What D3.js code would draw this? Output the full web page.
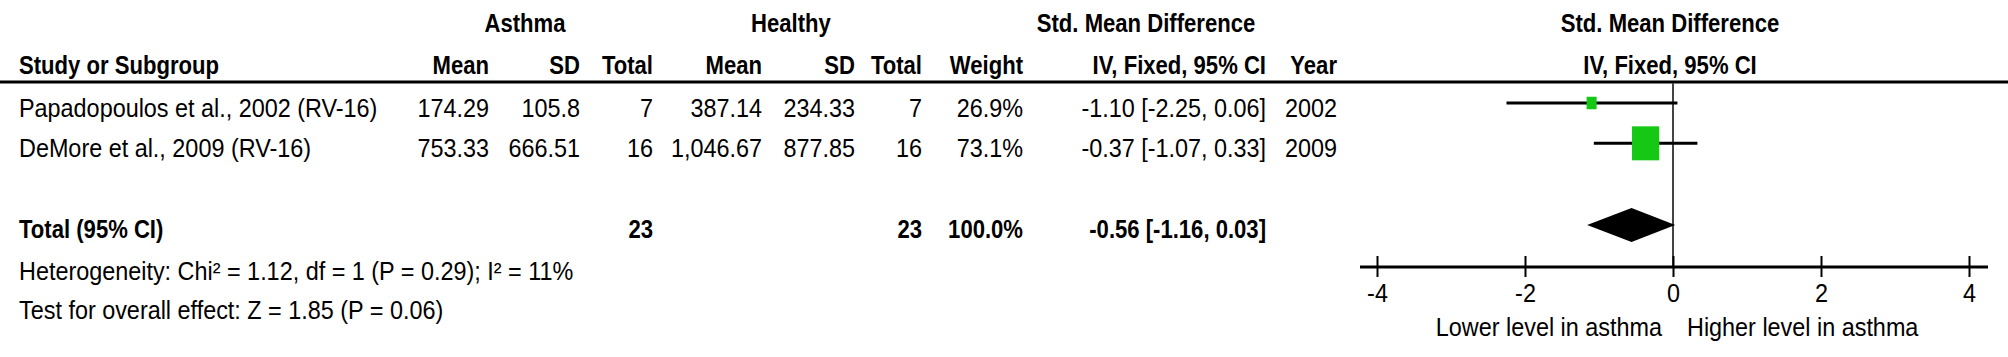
<!DOCTYPE html>
<html>
<head>
<meta charset="utf-8">
<script src="https://cdn.jsdelivr.net/npm/d3@7"></script>
<style>
  body { margin: 0; background: #fff; }
  svg text { font-family: "Liberation Sans", Arial, sans-serif; font-size: 26px; fill: #000; }
  .b { font-weight: bold; }
</style>
</head>
<body>
<div id="chart"></div>
<script>
// data
var studies = ["Papadopoulos et al., 2002 (RV-16)", "DeMore et al., 2009 (RV-16)"];
var asthmaMean = [174.29, 753.33];
var asthmaSD = [105.8, 666.51];
var asthmaN = [7, 16];
var healthyMean = [387.14, 1046.67];
var healthySD = [234.33, 877.85];
var healthyN = [7, 16];
var weights = [26.9, 73.1];
var smd = [-1.10, -0.37];
var ciLow = [-2.25, -1.07];
var ciHigh = [0.06, 0.33];
var years = [2002, 2009];

var totalN = [23, 23];
var totalWeight = 100;
var totalSmd = -0.56;
var totalLow = -1.16;
var totalHigh = 0.03;

var axisTicks = [-4, -2, 0, 2, 4];
var axisLabels = ["Lower level in asthma", "Higher level in asthma"];
var heterogeneity = "Heterogeneity: Chi\u00b2 = 1.12, df = 1 (P = 0.29); I\u00b2 = 11%";
var overall = "Test for overall effect: Z = 1.85 (P = 0.06)";

var width = 2008, height = 357;
// narrow the font like the original
var squeeze = 0.9, squeezeBold = 0.85;

var svg = d3.select("#chart").append("svg")
    .attr("width", width)
    .attr("height", height);

// column right edges
var col = {
  study: 19, aMean: 489, aSD: 580, aN: 653,
  hMean: 762, hSD: 855, hN: 922, weight: 1023,
  ci: 1266, year: 1337
};

var num = d3.format(",");
var f2 = function(v) { return v.toFixed(2); };
var ciText = function(m, lo, hi) { return f2(m) + " [" + f2(lo) + ", " + f2(hi) + "]"; };

// row baselines
var rowY = d3.scaleLinear().domain([0, 3]).range([117, 238]);

// x scale of the plot
var x = d3.scaleLinear().domain([-4, 4]).range([1377, 1969]);

function txt(s, xx, yy, anchor, cls) {
  var k = cls === "b" ? squeezeBold : squeeze;
  return svg.append("text")
    .attr("transform", "translate(" + xx + "," + yy + ") scale(" + k + ",1)")
    .attr("text-anchor", anchor || "start")
    .attr("class", cls || null)
    .text(s);
}

// headers
txt("Asthma", 525, 32, "middle", "b");
txt("Healthy", 791, 32, "middle", "b");
txt("Std. Mean Difference", 1146, 32, "middle", "b");
txt("Std. Mean Difference", 1670, 32, "middle", "b");

txt("Study or Subgroup", col.study, 74, "start", "b");
txt("Mean", col.aMean, 74, "end", "b");
txt("SD", col.aSD, 74, "end", "b");
txt("Total", col.aN, 74, "end", "b");
txt("Mean", col.hMean, 74, "end", "b");
txt("SD", col.hSD, 74, "end", "b");
txt("Total", col.hN, 74, "end", "b");
txt("Weight", col.weight, 74, "end", "b");
txt("IV, Fixed, 95% CI", col.ci, 74, "end", "b");
txt("Year", col.year, 74, "end", "b");
txt("IV, Fixed, 95% CI", 1670, 74, "middle", "b");

svg.append("line")
    .attr("x1", 0).attr("x2", width)
    .attr("y1", 82).attr("y2", 82)
    .style("stroke", "#000")
    .style("stroke-width", 3);

// study rows
studies.forEach(function(s, i) {
  var y = rowY(i);
  txt(s, col.study, y);
  txt(num(asthmaMean[i]), col.aMean, y, "end");
  txt(num(asthmaSD[i]), col.aSD, y, "end");
  txt(asthmaN[i], col.aN, y, "end");
  txt(num(healthyMean[i]), col.hMean, y, "end");
  txt(num(healthySD[i]), col.hSD, y, "end");
  txt(healthyN[i], col.hN, y, "end");
  txt(weights[i].toFixed(1) + "%", col.weight, y, "end");
  txt(ciText(smd[i], ciLow[i], ciHigh[i]), col.ci, y, "end");
  txt(years[i], col.year, y, "end");
});

// total row
var ty = rowY(3);
txt("Total (95% CI)", col.study, ty, "start", "b");
txt(totalN[0], col.aN, ty, "end", "b");
txt(totalN[1], col.hN, ty, "end", "b");
txt(totalWeight.toFixed(1) + "%", col.weight, ty, "end", "b");
txt(ciText(totalSmd, totalLow, totalHigh), col.ci, ty, "end", "b");

txt(heterogeneity, col.study, 280);
txt(overall, col.study, 319);

// plot
var axisY = 267;
var markOff = 14;

// zero line
svg.append("line")
    .attr("x1", x(0)).attr("x2", x(0))
    .attr("y1", 83).attr("y2", axisY)
    .style("stroke", "#444")
    .style("stroke-width", 2);

var size = d3.scaleLinear().domain([0, 73.1]).range([0, 34]);

var g = svg.append("g");
g.selectAll("line.ci")
    .data(studies)
  .enter().append("line")
    .attr("class", "ci")
    .attr("x1", function(d, i) { return x(ciLow[i]); })
    .attr("x2", function(d, i) { return x(ciHigh[i]); })
    .attr("y1", function(d, i) { return rowY(i) - markOff; })
    .attr("y2", function(d, i) { return rowY(i) - markOff; })
    .style("stroke", "#000")
    .style("stroke-width", 3);

g.selectAll("rect.box")
    .data(studies)
  .enter().append("rect")
    .attr("class", "box")
    .attr("x", function(d, i) { return x(smd[i]) - size(weights[i]) * 0.4; })
    .attr("y", function(d, i) { return rowY(i) - markOff - size(weights[i]) / 2; })
    .attr("width", function(d, i) { return size(weights[i]) * 0.8; })
    .attr("height", function(d, i) { return size(weights[i]); })
    .style("fill", "#14c814");

// diamond
var dy = ty - 13;
svg.append("path")
    .attr("d", "M" + x(totalLow) + "," + dy +
               "L" + x(totalSmd) + "," + (dy - 17) +
               "L" + x(totalHigh) + "," + dy +
               "L" + x(totalSmd) + "," + (dy + 17) + "Z")
    .style("fill", "#000");

// axis
var xAxis = d3.axisBottom(x)
    .tickValues(axisTicks)
    .tickSizeOuter(0)
    .tickFormat(function(d) { return String(d); });

var ga = svg.append("g")
    .attr("transform", "translate(0," + axisY + ")")
    .call(xAxis);
ga.select(".domain").remove();
ga.selectAll(".tick line")
    .attr("y1", -11).attr("y2", 10)
    .style("stroke", "#000")
    .style("stroke-width", 2);
ga.selectAll(".tick text")
    .attr("y", null).attr("dy", null)
    .attr("transform", "translate(0,35) scale(" + squeeze + ",1)")
    .style("font-family", "\"Liberation Sans\", sans-serif")
    .style("font-size", "26px")
    .style("fill", "#000");

svg.append("line")
    .attr("x1", x(-4) - 17).attr("x2", x(4) + 19)
    .attr("y1", axisY).attr("y2", axisY)
    .style("stroke", "#000")
    .style("stroke-width", 3);

txt(axisLabels[0], x(0) - 11, 336, "end");
txt(axisLabels[1], x(0) + 14, 336, "start");
</script>
</body>
</html>
